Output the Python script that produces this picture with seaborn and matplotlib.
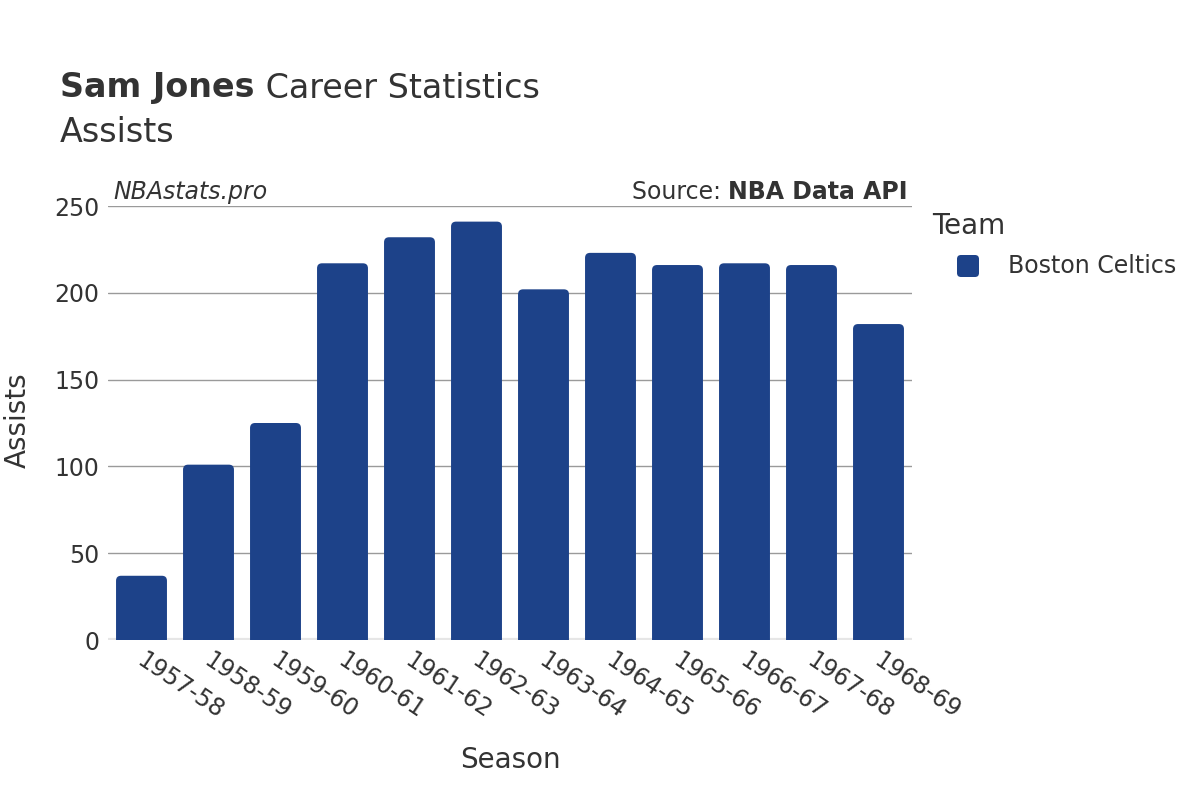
import matplotlib
matplotlib.use("Agg")
import matplotlib.pyplot as plt
import matplotlib.transforms as mtransforms
import seaborn as sns
import pandas as pd
from matplotlib.patches import FancyBboxPatch

seasons = ["1957-58", "1958-59", "1959-60", "1960-61", "1961-62", "1962-63",
           "1963-64", "1964-65", "1965-66", "1966-67", "1967-68", "1968-69"]
assists = [37, 101, 125, 217, 232, 241, 202, 223, 216, 217, 216, 182]
teams = ["Boston Celtics"] * len(seasons)
yticks = [0, 50, 100, 150, 200, 250]

df = pd.DataFrame({"Season": seasons, "Assists": assists, "Team": teams})

sns.set_theme(style="white")
plt.rcParams['font.family'] = ['DejaVu Sans']
TXT = "#333333"
BAR = "#1d4289"

fig = plt.figure(figsize=(12, 8), dpi=100)
AX_L, AX_R, AX_T, AX_B = 108, 912, 206, 640
ax = fig.add_axes([AX_L/1200, 1-AX_B/800, (AX_R-AX_L)/1200, (AX_B-AX_T)/800])

sns.barplot(data=df, x="Season", y="Assists", hue="Team", palette=[BAR],
            width=0.76, ax=ax, legend=False, saturation=1)

ax.set_ylim(0, 250)
ax.set_xlim(-0.5, len(seasons)-0.5)

# rounded bars
pxx = (AX_R-AX_L) / len(seasons)
pxy = (AX_B-AX_T) / 250
for p in list(ax.patches):
    x, w, h = p.get_x(), p.get_width(), p.get_height()
    fc = p.get_facecolor()
    p.remove()
    r = 5 / pxx
    fb = FancyBboxPatch((x, -10), w, h + 10,
                        boxstyle=f"round,pad=0,rounding_size={r}",
                        mutation_aspect=pxx/pxy, facecolor=fc,
                        edgecolor="none", zorder=3)
    ax.add_patch(fb)

ax.set_yticks(yticks)
ax.yaxis.grid(True, color="#9a9a9a", linewidth=1)
ax.set_axisbelow(True)
ax.axhline(0, color="#e6e6e6", linewidth=3, zorder=2.5)
for s in ax.spines.values():
    s.set_visible(False)
ax.tick_params(axis="both", length=0, labelsize=17, colors=TXT, pad=6)
ax.tick_params(axis="x", pad=6)
offset = mtransforms.ScaledTransform if False else None
shift = mtransforms.ScaledTranslation(5/100, 0, fig.dpi_scale_trans)
for lab in ax.get_xticklabels():
    lab.set_rotation(-34)
    lab.set_ha("left")
    lab.set_rotation_mode("anchor")
    lab.set_color(TXT)
    lab.set_transform(lab.get_transform() + shift)
ax.set_xlabel("")
ax.set_ylabel("")
fig.text(510/1200, 1-760/800, "Season", ha="center", va="center", fontsize=20, color=TXT)
fig.text(18/1200, 1-420/800, "Assists", ha="center", va="center", fontsize=20, color=TXT, rotation=90)

# title
t1 = fig.text(60/1200, 1-88/800, "Sam Jones", fontsize=24, fontweight="bold", color=TXT, va="center")
fig.canvas.draw()
bb = t1.get_window_extent()
fig.text(bb.x1/1200, 1-88/800, " Career Statistics", fontsize=24, color=TXT, va="center")
fig.text(60/1200, 1-132/800, "Assists", fontsize=24, color=TXT, va="center")

fig.text(113/1200, 1-192/800, "NBAstats.pro", fontsize=17, style="italic", color=TXT, va="center")
s2 = fig.text(908/1200, 1-192/800, "NBA Data API", fontsize=17, fontweight="bold", color=TXT, va="center", ha="right")
fig.canvas.draw()
bb2 = s2.get_window_extent()
fig.text(bb2.x0/1200, 1-192/800, "Source: ", fontsize=17, color=TXT, va="center", ha="right")

# legend
fig.text(932/1200, 1-226/800, "Team", fontsize=20, color=TXT, va="center")
leg_ax = fig.add_axes([0, 0, 1, 1], facecolor="none")
leg_ax.set_xlim(0, 1200); leg_ax.set_ylim(800, 0); leg_ax.axis("off")
leg_ax.add_patch(FancyBboxPatch((957, 255), 22, 22, boxstyle="round,pad=0,rounding_size=4",
                                facecolor=BAR, edgecolor="none"))
leg_ax.text(1008, 266, "Boston Celtics", fontsize=17, color=TXT, va="center")

fig.savefig("out.png", dpi=100, facecolor="white")
